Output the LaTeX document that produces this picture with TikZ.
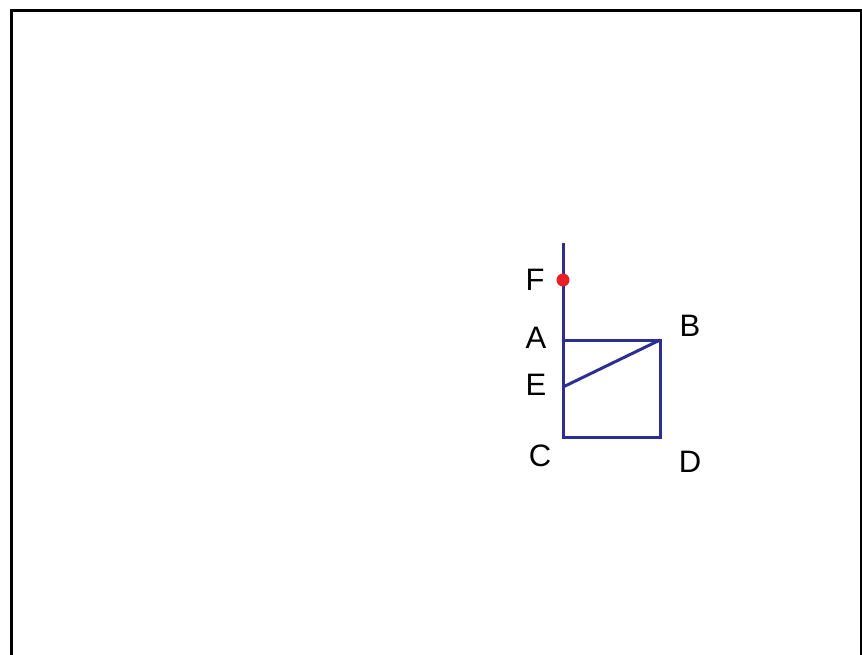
\documentclass[tikz,border=0pt]{standalone}
\usepackage{fontspec}
\setmainfont{Liberation Sans}
\definecolor{lineblue}{RGB}{45,45,150}
\definecolor{dotred}{RGB}{235,30,40}
\begin{document}
\begin{tikzpicture}[x=1pt,y=-1pt,
  seg/.style={draw=lineblue,line width=3pt},
  lbl/.style={font=\fontsize{31}{34}\selectfont,inner sep=0pt}]
\useasboundingbox (0,0) rectangle (862,655);
\draw[line width=3pt,black] (11,660) -- (11,11) -- (861,11) -- (861,660);
\coordinate (T) at (563,243);
\coordinate (F) at (563,280);
\coordinate (A) at (563,340);
\coordinate (B) at (660,340);
\coordinate (E) at (563,387);
\coordinate (C) at (563,437);
\coordinate (D) at (660,437);
\draw[seg] (T) -- (C) -- (D) -- (B) -- (A);
\draw[seg] (E) -- (B);
\fill[dotred] (F) circle (6.5);
\node[lbl] (lF) at (535,280) {F};
\node[lbl] (lA) at (536,338) {A};
\node[lbl] (lB) at (690,326) {B};
\node[lbl] (lE) at (536,385) {E};
\node[lbl] (lC) at (540,456) {C};
\node[lbl] (lD) at (690,462) {D};
\end{tikzpicture}
\end{document}
